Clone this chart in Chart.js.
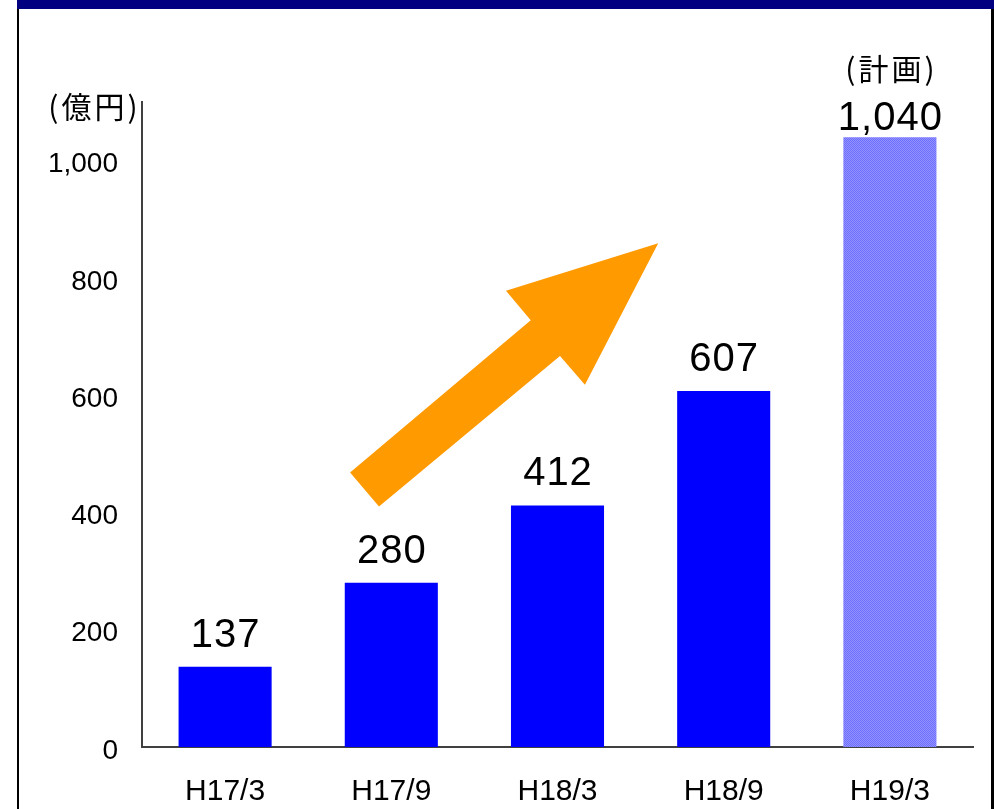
<!DOCTYPE html>
<html><head><meta charset="utf-8">
<script src="https://cdn.jsdelivr.net/npm/chart.js@4/dist/chart.umd.min.js"></script>
<style>html,body{margin:0;padding:0;background:#fff;} #wrap{width:994px;height:809px;position:relative}</style>
</head><body><div id="wrap"><canvas id="c" width="994" height="809"></canvas></div>
<script>
// ---- data ----
const categories = ['H17/3', 'H17/9', 'H18/3', 'H18/9', 'H19/3'];
const values = [137, 280, 412, 607, 1040];
const valueLabels = ['137', '280', '412', '607', '1,040'];
const planFlags = [false, false, false, false, true];
const yTicks = [0, 200, 400, 600, 800, 1000];
const unitLabel = '(億円)';
const planLabel = '(計画)';
// arrow outline in data space (category index, value)
const arrowX = [0.752, 0.926, 2.015, 2.165, 2.606, 1.690, 1.839];
const arrowY = [468, 410, 667, 618, 859, 778, 728];

// ---- styles ----
const LATIN = '"Liberation Sans", Arial, sans-serif';
const CJK = '"Noto Sans CJK JP", "Liberation Sans", sans-serif';

function makePattern() {
  const p = document.createElement('canvas');
  p.width = 2; p.height = 2;
  const g = p.getContext('2d');
  g.fillStyle = '#9494ff'; g.fillRect(0, 0, 2, 2);
  g.fillStyle = '#6c6cff'; g.fillRect(0, 0, 1, 1); g.fillRect(1, 1, 1, 1);
  return document.getElementById('c').getContext('2d').createPattern(p, 'repeat');
}
const planPattern = makePattern();
const barColors = planFlags.map(f => f ? planPattern : '#0000ff');

const framePlugin = {
  id: 'frame',
  beforeDraw(chart) {
    const ctx = chart.ctx;
    ctx.save();
    ctx.fillStyle = '#ffffff';
    ctx.fillRect(0, 0, chart.width, chart.height);
    ctx.fillStyle = '#000080';
    ctx.fillRect(17, 0, chart.width - 17, 9);
    ctx.fillStyle = '#000000';
    ctx.fillRect(17, 9, 2, chart.height - 9);
    ctx.fillRect(991, 9, 3, chart.height - 9);
    ctx.restore();
  }
};

const arrowPlugin = {
  id: 'arrow',
  beforeDatasetsDraw(chart) {
    const xs = chart.scales.x, ys = chart.scales.y;
    const x0 = xs.getPixelForValue(0), x1 = xs.getPixelForValue(1);
    const ctx = chart.ctx;
    ctx.save();
    ctx.fillStyle = '#ff9a00';
    ctx.beginPath();
    arrowX.forEach((ax, i) => {
      const px = x0 + ax * (x1 - x0);
      const py = ys.getPixelForValue(arrowY[i]);
      if (i === 0) ctx.moveTo(px, py); else ctx.lineTo(px, py);
    });
    ctx.closePath();
    ctx.fill();
    ctx.restore();
  }
};

function drawSpaced(ctx, text, cx, cy, spacing) {
  if ('letterSpacing' in ctx) {
    ctx.letterSpacing = spacing + 'px';
    const w = ctx.measureText(text).width;
    ctx.textAlign = 'left';
    ctx.fillText(text, cx - (w - spacing) / 2, cy);
    ctx.letterSpacing = '0px';
    ctx.textAlign = 'center';
  } else {
    ctx.fillText(text, cx, cy);
  }
}

const labelPlugin = {
  id: 'labels',
  afterDatasetsDraw(chart) {
    const ctx = chart.ctx;
    const meta = chart.getDatasetMeta(0);
    ctx.save();
    ctx.fillStyle = '#000';
    ctx.textAlign = 'center';
    meta.data.forEach((bar, i) => {
      ctx.font = '40px ' + LATIN;
      ctx.textBaseline = 'alphabetic';
      const off = planFlags[i] ? 7 : 20;
      drawSpaced(ctx, valueLabels[i], bar.x, bar.y - off, 1);
      if (planFlags[i]) {
        ctx.font = '30px ' + CJK;
        ctx.textBaseline = 'middle';
        drawSpaced(ctx, planLabel, bar.x, 69, 3);
      }
    });
    ctx.font = '30px ' + CJK;
    ctx.textBaseline = 'middle';
    drawSpaced(ctx, unitLabel, 93, 107, 3);
    ctx.restore();
  }
};

new Chart(document.getElementById('c'), {
  type: 'bar',
  data: {
    labels: categories,
    datasets: [{
      data: values,
      backgroundColor: barColors,
      borderWidth: 0,
      categoryPercentage: 1,
      barPercentage: 0.56
    }]
  },
  options: {
    responsive: false,
    animation: false,
    devicePixelRatio: 1,
    layout: { padding: { top: 102, right: 21, left: 0, bottom: 0 } },
    plugins: { legend: { display: false }, tooltip: { enabled: false }, title: { display: false } },
    scales: {
      x: {
        grid: { display: false, drawTicks: false },
        border: { display: true, color: '#404040', width: 2 },
        ticks: { color: '#000', font: { family: LATIN, size: 30 }, padding: 27, maxRotation: 0 },
        afterFit(s) { s.height = 62; }
      },
      y: {
        min: 0, max: 1100,
        grid: { display: false, drawTicks: false },
        border: { display: true, color: '#404040', width: 2 },
        ticks: {
          color: '#000', font: { family: LATIN, size: 28 }, padding: 24, labelOffset: 4,
          callback: v => v.toLocaleString('en-US')
        },
        afterBuildTicks(s) { s.ticks = yTicks.map(v => ({ value: v })); },
        afterFit(s) { s.width = 142; }
      }
    }
  },
  plugins: [framePlugin, arrowPlugin, labelPlugin]
});
</script></body></html>
